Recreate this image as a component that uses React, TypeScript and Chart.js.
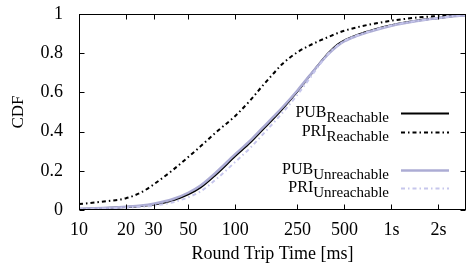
import { useEffect, useRef } from "react";
import { Chart, registerables } from "chart.js";

Chart.register(...registerables);

// Round trip time sample points (ms)
const rttMs = [10, 15, 20, 25, 30, 40, 50, 60, 75, 100, 125, 150, 175, 200, 250, 300, 350, 400, 450, 500, 600, 700, 800, 1000, 1250, 1500, 2000, 2500, 3000];

const pubReachable = [0.005, 0.01, 0.015, 0.02, 0.028, 0.05, 0.08, 0.115, 0.18, 0.275, 0.345, 0.41, 0.465, 0.515, 0.605, 0.685, 0.752, 0.805, 0.843, 0.866, 0.892, 0.91, 0.924, 0.943, 0.958, 0.968, 0.98, 0.99, 0.995];
const priReachable = [0.03, 0.045, 0.06, 0.09, 0.13, 0.205, 0.27, 0.325, 0.395, 0.48, 0.56, 0.635, 0.695, 0.745, 0.805, 0.84, 0.865, 0.885, 0.902, 0.915, 0.932, 0.944, 0.953, 0.966, 0.976, 0.983, 0.99, 0.995, 0.998];
const pubUnreachable = [0.006, 0.011, 0.017, 0.023, 0.032, 0.056, 0.088, 0.125, 0.19, 0.285, 0.355, 0.42, 0.475, 0.523, 0.61, 0.687, 0.75, 0.8, 0.837, 0.861, 0.888, 0.906, 0.92, 0.94, 0.955, 0.966, 0.979, 0.988, 0.994];
const priUnreachable = [0.004, 0.008, 0.012, 0.017, 0.022, 0.04, 0.065, 0.095, 0.155, 0.245, 0.318, 0.385, 0.443, 0.495, 0.588, 0.672, 0.745, 0.802, 0.838, 0.863, 0.89, 0.908, 0.922, 0.942, 0.957, 0.967, 0.98, 0.989, 0.995];

const xTickValues = [10, 20, 30, 50, 100, 250, 500, 1000, 2000];
const xTickLabels = ["10", "20", "30", "50", "100", "250", "500", "1s", "2s"];
const yTickValues = [0, 0.2, 0.4, 0.6, 0.8, 1];
const yTickLabels = ["0", "0.2", "0.4", "0.6", "0.8", "1"];

const seriesNames = ["PUB", "PRI", "PUB", "PRI"];
const seriesSubs = ["Reachable", "Reachable", "Unreachable", "Unreachable"];

const FONT = "'Liberation Serif', 'Times New Roman', serif";

const framePlugin = {
  id: "frameTicksLegend",
  afterDraw(chart: any) {
    const { ctx, chartArea: a, scales } = chart;
    const xs = scales.x;
    const ys = scales.y;
    const L = Math.round(a.left) + 0.5;
    const R = Math.round(a.right) - 0.5;
    const T = Math.round(a.top) + 0.5;
    const B = Math.round(a.bottom) - 0.5;
    ctx.save();
    ctx.strokeStyle = "#000";
    ctx.lineWidth = 1;
    ctx.setLineDash([]);
    ctx.strokeRect(L, T, R - L, B - T);
    const tl = 5;
    ctx.beginPath();
    xTickValues.forEach((v) => {
      const px = Math.round(xs.getPixelForValue(v)) + 0.5;
      ctx.moveTo(px, B);
      ctx.lineTo(px, B - tl);
      ctx.moveTo(px, T);
      ctx.lineTo(px, T + tl);
    });
    yTickValues.forEach((v) => {
      const py = Math.round(ys.getPixelForValue(v)) + 0.5;
      ctx.moveTo(L, py);
      ctx.lineTo(L + tl, py);
      ctx.moveTo(R, py);
      ctx.lineTo(R - tl, py);
    });
    ctx.stroke();

    // legend with subscripts
    const textRight = a.right - 77;
    const lineX0 = a.right - 65;
    const lineX1 = a.right - 17;
    const baseOffsets = [103, 122, 160, 178];
    chart.data.datasets.forEach((ds: any, i: number) => {
      const base = a.top + baseOffsets[i];
      ctx.fillStyle = "#000";
      ctx.textBaseline = "alphabetic";
      ctx.textAlign = "left";
      ctx.font = `15px ${FONT}`;
      const subW = ctx.measureText(seriesSubs[i]).width;
      ctx.fillText(seriesSubs[i], textRight - subW, base + 5);
      ctx.font = `16px ${FONT}`;
      const mainW = ctx.measureText(seriesNames[i]).width;
      ctx.fillText(seriesNames[i], textRight - subW - mainW, base);
      const ly = Math.round(base - 4.5) + 0.5;
      ctx.strokeStyle = ds.borderColor;
      ctx.lineWidth = ds.borderWidth;
      ctx.setLineDash(ds.borderDash || []);
      ctx.beginPath();
      ctx.moveTo(lineX0, ly);
      ctx.lineTo(lineX1, ly);
      ctx.stroke();
    });
    ctx.restore();
  },
};

export default function App() {
  const ref = useRef<HTMLCanvasElement>(null);
  useEffect(() => {
    const toPts = (ys: number[]) => rttMs.map((x, i) => ({ x, y: ys[i] }));
    const chart = new Chart(ref.current!, {
      type: "line",
      data: {
        datasets: [
          { label: "PUB Reachable", data: toPts(pubReachable), borderColor: "#000000", borderWidth: 2, order: 4 },
          { label: "PRI Reachable", data: toPts(priReachable), borderColor: "#000000", borderWidth: 2, borderDash: [4, 3, 1.5, 3], order: 3 },
          { label: "PUB Unreachable", data: toPts(pubUnreachable), borderColor: "#acacd4", borderWidth: 2.5, order: 2 },
          { label: "PRI Unreachable", data: toPts(priUnreachable), borderColor: "#c6c6ec", borderWidth: 2, borderDash: [4, 3, 1.5, 3], order: 1 },
        ] as any,
      },
      options: {
        responsive: false,
        animation: false,
        events: [],
        layout: { padding: { top: 14, right: 2, left: 0, bottom: 0 } },
        elements: {
          point: { radius: 0 },
          line: { cubicInterpolationMode: "monotone", fill: false },
        },
        plugins: { legend: { display: false }, tooltip: { enabled: false } },
        scales: {
          x: {
            type: "logarithmic",
            min: 10,
            max: 3000,
            grid: { display: false, drawTicks: false },
            border: { display: false },
            afterBuildTicks: (s: any) => {
              s.ticks = xTickValues.map((v) => ({ value: v }));
            },
            afterFit: (s: any) => {
              s.height = 56;
              s.paddingLeft = 0;
              s.paddingRight = 0;
            },
            ticks: {
              autoSkip: false,
              maxRotation: 0,
              padding: 9,
              color: "#000",
              font: { family: FONT, size: 18 },
              callback: (v: any) => {
                const i = xTickValues.indexOf(Number(v));
                return i >= 0 ? xTickLabels[i] : "";
              },
            },
            title: {
              display: true,
              text: "Round Trip Time [ms]",
              color: "#000",
              font: { family: FONT, size: 18 },
              padding: { top: 0, bottom: 1 },
            },
          },
          y: {
            type: "linear",
            min: 0,
            max: 1,
            grid: { display: false, drawTicks: false },
            border: { display: false },
            afterBuildTicks: (s: any) => {
              s.ticks = yTickValues.map((v) => ({ value: v }));
            },
            afterFit: (s: any) => {
              s.width = 79;
              s.paddingTop = 0;
              s.paddingBottom = 0;
            },
            ticks: {
              padding: 16,
              color: "#000",
              font: { family: FONT, size: 18 },
              callback: (v: any) => {
                const i = yTickValues.indexOf(Number(v));
                return i >= 0 ? yTickLabels[i] : String(v);
              },
            },
            title: {
              display: true,
              text: "CDF",
              color: "#000",
              font: { family: FONT, size: 17 },
              padding: { top: 8, bottom: 0 },
            },
          },
        },
      } as any,
      plugins: [framePlugin],
    });
    return () => chart.destroy();
  }, []);
  return (
    <div style={{ position: "fixed", left: 0, top: 0, width: 468, height: 266, background: "#fff" }}>
      <canvas ref={ref} width={468} height={266} style={{ display: "block" }} />
    </div>
  );
}
